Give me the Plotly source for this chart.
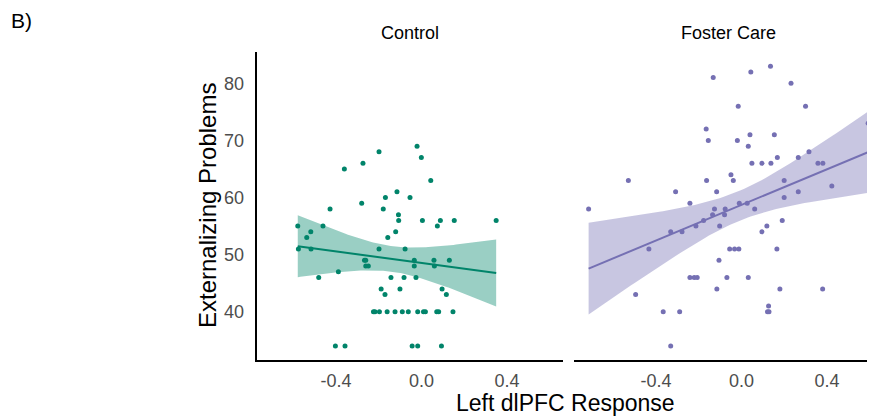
import numpy as np
import plotly.graph_objects as go

# ---------------- data ----------------
panel_titles = ["Control", "Foster Care"]

control_x = [-0.579, -0.576, -0.537, -0.518, -0.517, -0.481, -0.461, -0.428, -0.403, -0.389,
             -0.361, -0.358, -0.280, -0.274, -0.267, -0.261, -0.261, -0.249, -0.225, -0.218,
             -0.199, -0.199, -0.197, -0.189, -0.179, -0.171, -0.169, -0.161, -0.158, -0.143,
             -0.124, -0.121, -0.115, -0.108, -0.107, -0.101, -0.090, -0.082, -0.077, -0.062,
             -0.054, -0.044, -0.034, -0.034, -0.026, -0.021, -0.018, -0.018, -0.001, 0.004,
             0.009, 0.018, 0.043, 0.058, 0.060, 0.071, 0.074, 0.080, 0.088, 0.093,
             0.096, 0.116, 0.130, 0.147, 0.153, 0.349]
control_y = [55, 51, 53, 54, 51, 46, 55, 58, 34, 47,
             65, 34, 59, 66, 49, 49, 48, 48, 40, 40,
             68, 51, 40, 44, 58, 43, 60, 40, 53, 46,
             40, 54, 61, 57, 56, 44, 40, 46, 51, 40,
             60, 34, 49, 48, 46, 69, 34, 40, 67, 56,
             40, 40, 63, 49, 48, 40, 55, 40, 56, 34,
             44, 43, 49, 40, 56, 56]

foster_x = [-0.715, -0.529, -0.495, -0.433, -0.366, -0.331, -0.331, -0.308, -0.289, -0.278,
            -0.241, -0.241, -0.221, -0.207, -0.213, -0.177, -0.165, -0.163, -0.155, -0.135,
            -0.132, -0.126, -0.116, -0.115, -0.105, -0.102, -0.079, -0.076, -0.068, -0.055,
            -0.049, -0.038, -0.032, -0.019, -0.015, -0.012, -0.010, 0.027, 0.032, 0.032,
            0.040, 0.044, 0.049, 0.062, 0.096, 0.096, 0.119, 0.122, 0.129, 0.127,
            0.136, 0.138, 0.154, 0.166, 0.168, 0.180, 0.191, 0.200, 0.200, 0.232,
            0.266, 0.266, 0.300, 0.316, 0.358, 0.381, 0.380, 0.423, 0.593]
foster_y = [58, 63, 43, 51, 40, 54, 34, 61, 40, 54,
            59, 46, 46, 46, 55, 56, 72, 63, 70, 57,
            81, 58, 61, 44, 49, 55, 57, 58, 46, 51,
            64, 63, 51, 70, 76, 51, 59, 59, 69, 46,
            71, 82, 66, 58, 66, 54, 55, 40, 40, 41,
            83, 66, 71, 51, 67, 44, 56, 63, 60, 80,
            67, 61, 76, 68, 66, 66, 44, 62, 73]

x_tick_vals = [-0.4, 0.0, 0.4]
x_tick_text = ["-0.4", "0.0", "0.4"]
y_tick_vals = [40, 50, 60, 70, 80]

colors = ["#01846A", "#7570B3"]
band_colors = ["rgba(2,135,107,0.4)", "rgba(117,112,179,0.4)"]


def lm_fit(x, y, n=80, tcrit=1.997):
    x = np.asarray(x, float)
    y = np.asarray(y, float)
    b1, b0 = np.polyfit(x, y, 1)
    resid = y - (b0 + b1 * x)
    s = np.sqrt(np.sum(resid ** 2) / (len(x) - 2))
    xs = np.linspace(x.min(), x.max(), n)
    yhat = b0 + b1 * xs
    se = s * np.sqrt(1 / len(x) + (xs - x.mean()) ** 2 / np.sum((x - x.mean()) ** 2))
    return xs, yhat, yhat - tcrit * se, yhat + tcrit * se


fig = go.Figure()
datasets = [(control_x, control_y), (foster_x, foster_y)]
for i, (xv, yv) in enumerate(datasets):
    xa = "x" if i == 0 else "x2"
    ya = "y" if i == 0 else "y2"
    xs, yh, lo, hi = lm_fit(xv, yv)
    fig.add_trace(go.Scatter(
        x=np.concatenate([xs, xs[::-1]]), y=np.concatenate([hi, lo[::-1]]),
        fill="toself", fillcolor=band_colors[i], line=dict(width=0),
        mode="lines", hoverinfo="skip", showlegend=False, xaxis=xa, yaxis=ya))
    fig.add_trace(go.Scatter(
        x=xs, y=yh, mode="lines", line=dict(color=colors[i], width=2),
        showlegend=False, xaxis=xa, yaxis=ya))
    fig.add_trace(go.Scatter(
        x=xv, y=yv, mode="markers", marker=dict(color=colors[i], size=5),
        showlegend=False, xaxis=xa, yaxis=ya))

# page has an 8px body margin; figure occupies 8..875 x 8..416
OFF = 8
W, H = 875 - OFF, 416 - OFF


def fx(px):
    return (px - OFF) / W


def fy(py):
    return 1 - (py - OFF) / H


xdom1 = [fx(256.5), fx(563.3)]
xdom2 = [fx(574.3), 1.0]
ydom = [fy(360.0), fy(52.2)]

tick_font = dict(family="Liberation Sans, Arial, sans-serif", size=18, color="#4D4D4D")
common_x = dict(showgrid=False, zeroline=False, showline=True, linecolor="black",
                linewidth=1.5, ticks="", tickvals=x_tick_vals, ticktext=x_tick_text,
                tickfont=tick_font, ticklabelstandoff=4)

fig.update_layout(
    width=W, height=H, margin=dict(l=0, r=0, t=0, b=0),
    paper_bgcolor="white", plot_bgcolor="white",
    font=dict(family="Liberation Sans, Arial, sans-serif", color="black"),
    xaxis=dict(domain=xdom1, range=[-0.772, 0.663], anchor="y", **common_x),
    xaxis2=dict(domain=xdom2, range=[-0.782, 0.625], anchor="y2", **common_x),
    yaxis=dict(domain=ydom, range=[31.55, 85.45], anchor="x", showgrid=False,
               zeroline=False, showline=True, linecolor="black", linewidth=1.5,
               ticks="", tickvals=y_tick_vals, tickfont=tick_font, ticklabelstandoff=7),
    yaxis2=dict(domain=ydom, range=[31.55, 85.45], anchor="x2", showgrid=False,
                zeroline=False, showline=False, showticklabels=False),
)

ann = [
    dict(text="B)", x=fx(22), y=fy(20), font=dict(size=21)),
    dict(text=panel_titles[0], x=(xdom1[0] + xdom1[1]) / 2, y=fy(33), font=dict(size=18)),
    dict(text=panel_titles[1], x=fx(728), y=fy(33), font=dict(size=18)),
    dict(text="Left dlPFC Response", x=fx(565), y=fy(403), font=dict(size=23)),
    dict(text="Externalizing Problems", x=fx(207), y=fy(206), font=dict(size=24),
         textangle=-90),
]
for a in ann:
    fig.add_annotation(xref="paper", yref="paper", showarrow=False,
                       xanchor="center", yanchor="middle", **a)

fig.write_html("out.html")
